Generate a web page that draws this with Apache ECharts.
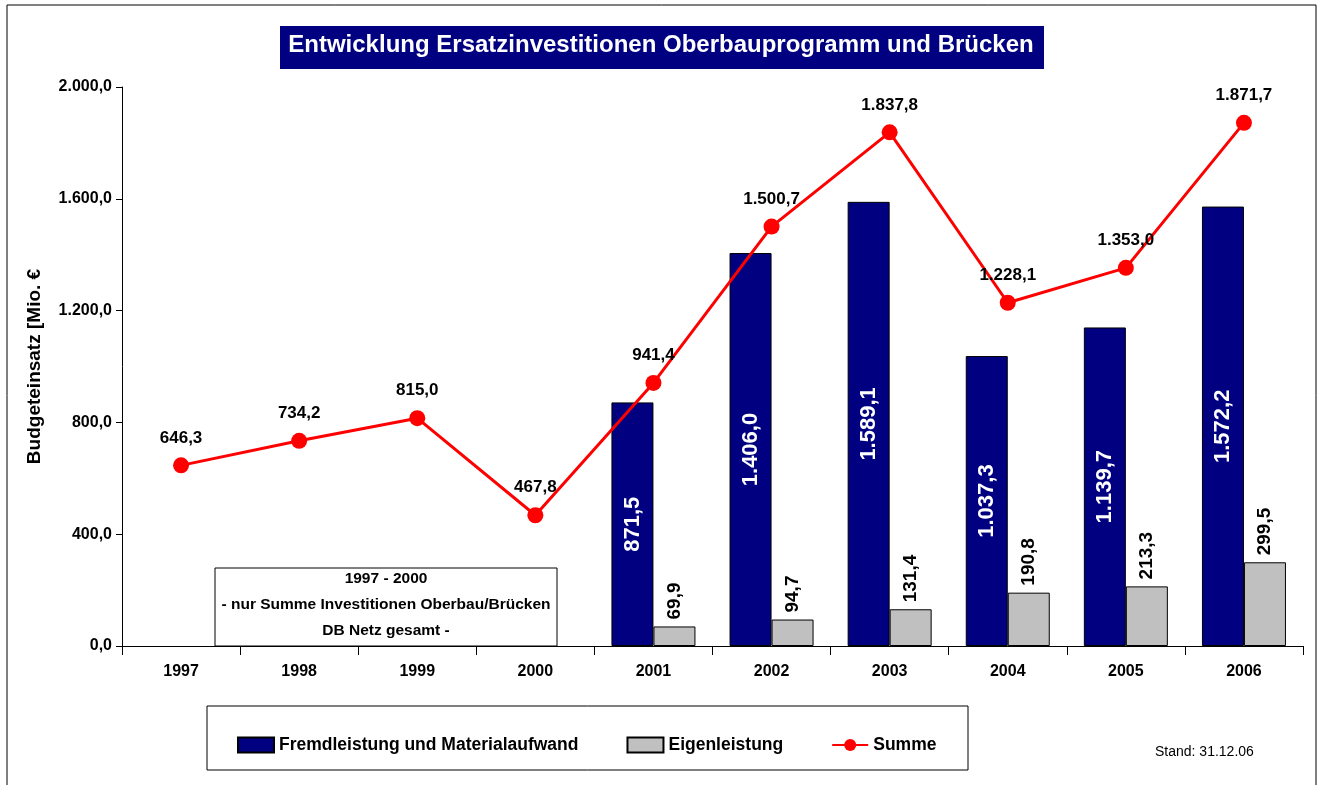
<!DOCTYPE html>
<html lang="de">
<head>
    <meta charset="UTF-8">
    <title>Entwicklung Ersatzinvestitionen</title>
    <style>
        html, body { margin: 0; padding: 0; background: #fff; }
        #main { width: 1322px; height: 785px; }
    </style>
    <script src="https://cdn.jsdelivr.net/npm/echarts@6/dist/echarts.min.js"></script>
</head>
<body>
<div id="main"></div>
<script>
    // Daten aus der Grafik
    var jahre = ['1997', '1998', '1999', '2000', '2001', '2002', '2003', '2004', '2005', '2006'];
    var fremdleistung = [null, null, null, null, 871.5, 1406.0, 1589.1, 1037.3, 1139.7, 1572.2];
    var eigenleistung = [null, null, null, null, 69.9, 94.7, 131.4, 190.8, 213.3, 299.5];
    var summe = [646.3, 734.2, 815.0, 467.8, 941.4, 1500.7, 1837.8, 1228.1, 1353.0, 1871.7];

    var fontFam = 'Arial, "Liberation Sans", sans-serif';

    // 1234.5 -> "1.234,5"
    function deFormat(v) {
        var s = Number(v).toFixed(1).split('.');
        var ganz = s[0].replace(/\B(?=(\d{3})+(?!\d))/g, '.');
        return ganz + ',' + s[1];
    }

    var myChart = echarts.init(document.getElementById('main'));

    var option = {
        backgroundColor: '#fff',
        textStyle: { fontFamily: fontFam },
        animation: false,
        grid: { left: 122, right: 19, top: 87, bottom: 139 },
        graphic: [
            // Rahmen
            { type: 'rect', shape: { x: 7, y: 5, width: 1309, height: 790 }, style: { fill: 'none', stroke: '#000', lineWidth: 1 }, z: -1 },
            // Titel
            { type: 'rect', shape: { x: 280, y: 26, width: 764, height: 43 }, style: { fill: '#000080' } },
            { type: 'text', left: 'center', top: 33, style: { text: 'Entwicklung Ersatzinvestitionen Oberbauprogramm und Brücken', fill: '#fff', font: 'bold 24px ' + fontFam } },
            // Hinweisbox
            { type: 'rect', shape: { x: 215, y: 568, width: 342, height: 78 }, style: { fill: '#fff', stroke: '#000', lineWidth: 1 }, z: 10 },
            { type: 'text', x: 386, y: 566, z: 11, style: { text: '1997 - 2000\n- nur Summe Investitionen Oberbau/Brücken\nDB Netz gesamt -', align: 'center', fill: '#000', font: 'bold 15.5px ' + fontFam, lineHeight: 26 } },
            // Legendenrahmen
            { type: 'rect', shape: { x: 207, y: 706, width: 761, height: 64 }, style: { fill: '#fff', stroke: '#000', lineWidth: 1 }, z: -1 },
            { type: 'text', x: 1155, y: 745, style: { text: 'Stand: 31.12.06', fill: '#000', font: '14px ' + fontFam } }
        ],
        legend: {
            left: 232,
            top: 731,
            itemWidth: 36,
            itemHeight: 15,
            itemGap: 48,
            textStyle: { fontSize: 17.5, fontWeight: 'bold', color: '#000' },
            data: [
                { name: 'Fremdleistung und Materialaufwand', icon: 'rect' },
                { name: 'Eigenleistung', icon: 'rect' },
                { name: 'Summe' }
            ]
        },
        xAxis: {
            type: 'category',
            data: jahre,
            axisLine: { lineStyle: { color: '#000', width: 1 } },
            axisTick: { show: true, length: 9, lineStyle: { color: '#000' } },
            axisLabel: { color: '#000', fontSize: 16, fontWeight: 'bold', margin: 18 }
        },
        yAxis: {
            type: 'value',
            min: 0,
            max: 2000,
            interval: 400,
            name: 'Budgeteinsatz [Mio. €',
            nameLocation: 'middle',
            nameGap: 78,
            nameTextStyle: { color: '#000', fontSize: 19, fontWeight: 'bold' },
            axisLine: { show: true, lineStyle: { color: '#000', width: 1 } },
            axisTick: { show: true, length: 6, lineStyle: { color: '#000' } },
            splitLine: { show: false },
            axisLabel: { color: '#000', fontSize: 16, fontWeight: 'bold', margin: 10, formatter: deFormat }
        },
        series: [
            {
                name: 'Fremdleistung und Materialaufwand',
                type: 'bar',
                data: fremdleistung,
                barWidth: 42,
                barGap: '0%',
                itemStyle: { color: '#000080', borderColor: '#000', borderWidth: 1 },
                label: {
                    show: true,
                    position: 'inside',
                    rotate: 90,
                    color: '#fff',
                    fontSize: 22,
                    fontWeight: 'bold',
                    formatter: function (p) { return deFormat(p.value); }
                }
            },
            {
                name: 'Eigenleistung',
                type: 'bar',
                data: eigenleistung,
                barWidth: 42,
                barGap: '0%',
                itemStyle: { color: '#c0c0c0', borderColor: '#000', borderWidth: 1 },
                label: {
                    show: true,
                    position: 'top',
                    rotate: 90,
                    align: 'left',
                    verticalAlign: 'middle',
                    distance: 7,
                    color: '#000',
                    fontSize: 19,
                    fontWeight: 'bold',
                    formatter: function (p) { return deFormat(p.value); }
                }
            },
            {
                name: 'Summe',
                type: 'line',
                data: summe,
                z: 5,
                symbol: 'circle',
                symbolSize: 16,
                lineStyle: { color: '#ff0000', width: 3 },
                itemStyle: { color: '#ff0000' },
                label: {
                    show: true,
                    position: 'top',
                    distance: 11,
                    color: '#000',
                    fontSize: 17,
                    fontWeight: 'bold',
                    formatter: function (p) { return deFormat(p.value); }
                }
            }
        ]
    };

    myChart.setOption(option);
</script>
</body>
</html>
